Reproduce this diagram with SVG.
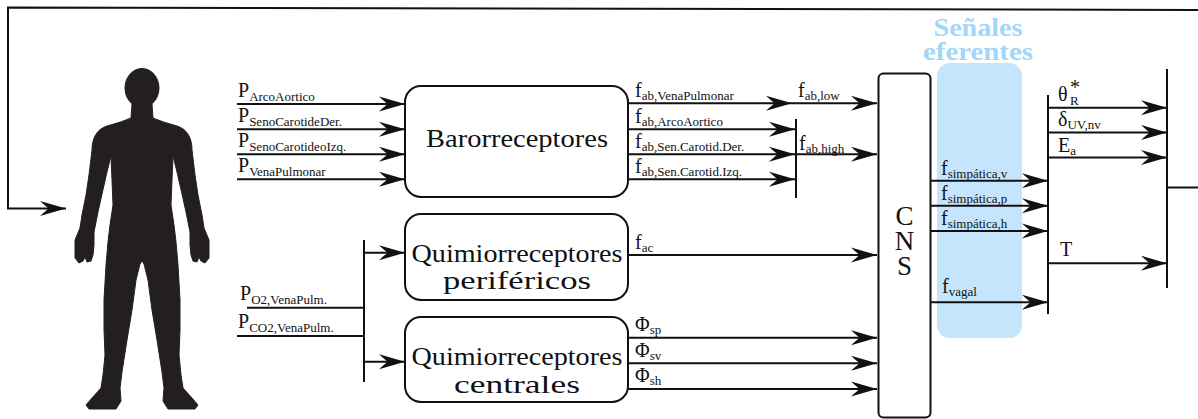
<svg xmlns="http://www.w3.org/2000/svg" width="1198" height="419" viewBox="0 0 1198 419">
  <style>
    text { font-family: "Liberation Serif", "Times New Roman", serif; fill: #111; }
    .m { font-size: 20px; }
    .s { font-size: 13px; }
    .box-label { font-size: 25px; text-anchor: middle; }
    .cns-label { font-size: 27px; text-anchor: middle; }
    .title { font-weight: bold; font-size: 26px; fill: #a3d6f8; text-anchor: middle; }
    .box { fill: #fff; stroke: #111; stroke-width: 2; }
    .wire { fill: none; stroke: #111; stroke-width: 2; }
    .arrow { fill: none; stroke: #111; stroke-width: 2; marker-end: url(#ah); }
  </style>
  <defs>
    <marker id="ah" markerUnits="userSpaceOnUse" markerWidth="26" markerHeight="16" viewBox="0 0 26 16" refX="26" refY="8" orient="auto">
      <path d="M26,8 L0,0.5 Q7,7 9,8 Q7,9 0,15.5 Z" fill="#111"/>
    </marker>
  </defs>

  <rect width="1198" height="419" fill="#fff"/>

  <!-- efferent signal band -->
  <g id="efferent-band">
    <rect x="937" y="63" width="85" height="275" rx="13" fill="#c4e5fb"/>
    <text class="title" x="978" y="36" textLength="89" lengthAdjust="spacingAndGlyphs">Señales</text>
    <text class="title" x="978" y="60" textLength="110" lengthAdjust="spacingAndGlyphs">eferentes</text>
  </g>

  <!-- body silhouette -->
  <g id="body" fill="#231f20" stroke="#231f20" stroke-width="1" stroke-linejoin="round">
    <ellipse cx="142" cy="88" rx="17" ry="19.5"/>
    <path d="M152,104 L153,118 Q162,122 177,126 C187,129 192,138 192,150 L195,175 L198,195 L202,215 L204,228 L209,240 L209,258 L205,263 L201,261 L199,257 L197,262 L193,261 L191,255 L190,245 L190,232 L186,212 L182,194 L177,172 L173,156 L172,180 L171,205 L174,225 L176,242 L178,265 L180,300 L180,330 L179,355 L181,375 L183,388 L192,398 L198,405 L195,409 L168,409 L163,401 L164,388 L162,372 L157,340 L152,310 L148,280 L144,264 L142,261 L140,264 L136,280 L132,310 L127,340 L122,372 L120,388 L121,401 L116,409 L89,409 L86,405 L92,398 L101,388 L103,375 L105,355 L104,330 L104,300 L106,265 L108,242 L110,225 L113,205 L112,180 L111,156 L107,172 L102,194 L98,212 L94,232 L94,245 L93,255 L91,261 L87,262 L85,257 L83,261 L79,263 L75,258 L75,240 L80,228 L82,215 L86,195 L89,175 L92,150 C92,138 97,129 107,126 Q122,122 131,118 L132,104 Z"/>
  </g>

  <!-- receptor and control blocks -->
  <g id="barorreceptores">
    <rect class="box" x="405" y="86" width="223" height="111" rx="16"/>
    <text class="box-label" x="517" y="147" textLength="182" lengthAdjust="spacingAndGlyphs">Barorreceptores</text>
  </g>
  <g id="quimio-perifericos">
    <rect class="box" x="405" y="214" width="223" height="86" rx="16"/>
    <text class="box-label" x="517" y="262" textLength="211" lengthAdjust="spacingAndGlyphs">Quimiorreceptores</text>
    <text class="box-label" x="517" y="289" textLength="148" lengthAdjust="spacingAndGlyphs">periféricos</text>
  </g>
  <g id="quimio-centrales">
    <rect class="box" x="405" y="317" width="223" height="85" rx="16"/>
    <text class="box-label" x="517" y="365" textLength="211" lengthAdjust="spacingAndGlyphs">Quimiorreceptores</text>
    <text class="box-label" x="517" y="393" textLength="126" lengthAdjust="spacingAndGlyphs">centrales</text>
  </g>
  <g id="cns">
    <rect class="box" x="878.5" y="73.5" width="52" height="344" rx="5"/>
    <text class="cns-label" x="904.5" y="225">C</text>
    <text class="cns-label" x="904.5" y="250">N</text>
    <text class="cns-label" x="904.5" y="275">S</text>
  </g>

  <!-- connectors -->
  <g id="connectors">
    <!-- feedback loop to the body -->
    <path class="arrow" d="M1198,10 L8,7.5 L8,208.5 L66,208.5"/>
    <path class="wire" d="M1167,187.5 L1198,187.5"/>

    <!-- pressures into baroreceptors -->
    <path class="arrow" d="M237,104 L405,104"/>
    <path class="arrow" d="M237,129.3 L405,129.3"/>
    <path class="arrow" d="M237,154.3 L405,154.3"/>
    <path class="arrow" d="M237,179.3 L405,179.3"/>

    <!-- baroreceptor afferents -->
    <path class="arrow" d="M628,103.3 L792,103.3"/>
    <path class="arrow" d="M792,103.3 L877,103.3"/>
    <path class="arrow" d="M628,129.3 L795,129.3"/>
    <path class="arrow" d="M628,154.3 L795,154.3"/>
    <path class="arrow" d="M628,179.3 L795,179.3"/>
    <path class="wire" d="M796,119 L796,198"/>
    <path class="arrow" d="M796,154.3 L877,154.3"/>

    <!-- blood gases into chemoreceptors -->
    <path class="wire" d="M247,307.7 L364,307.7"/>
    <path class="wire" d="M237,336 L364,336"/>
    <path class="wire" d="M364,240 L364,382"/>
    <path class="arrow" d="M364,252.7 L405,252.7"/>
    <path class="arrow" d="M364,361.7 L405,361.7"/>

    <!-- chemoreceptor afferents -->
    <path class="arrow" d="M628,255 L877,255"/>
    <path class="arrow" d="M628,337.7 L877,337.7"/>
    <path class="arrow" d="M628,363.3 L877,363.3"/>
    <path class="arrow" d="M628,389 L877,389"/>

    <!-- efferent outputs -->
    <path class="arrow" d="M931,180.7 L1048,180.7"/>
    <path class="arrow" d="M931,205.7 L1048,205.7"/>
    <path class="arrow" d="M931,231 L1048,231"/>
    <path class="arrow" d="M931,302.3 L1048,302.3"/>
    <path class="wire" d="M1048,95 L1048,314"/>

    <!-- effector parameters -->
    <path class="arrow" d="M1048,107.7 L1167,107.7"/>
    <path class="arrow" d="M1048,132.5 L1167,132.5"/>
    <path class="arrow" d="M1048,157.5 L1167,157.5"/>
    <path class="arrow" d="M1048,263.3 L1167,263.3"/>
    <path class="wire" d="M1167,69 L1167,288"/>
  </g>

  <!-- signal labels -->
  <g id="labels">
    <text class="m" x="238" y="97">P<tspan class="s" dy="3.5">ArcoAortico</tspan></text>
    <text class="m" x="238" y="122">P<tspan class="s" dy="3.5">SenoCarotideDer.</tspan></text>
    <text class="m" x="238" y="147">P<tspan class="s" dy="3.5">SenoCarotideoIzq.</tspan></text>
    <text class="m" x="238" y="172">P<tspan class="s" dy="3.5">VenaPulmonar</tspan></text>

    <text class="m" x="240" y="300">P<tspan class="s" dy="3.5">O2,VenaPulm.</tspan></text>
    <text class="m" x="238" y="328">P<tspan class="s" dy="3.5">CO2,VenaPulm.</tspan></text>

    <text class="m" x="635" y="97">f<tspan class="s" dy="3">ab,VenaPulmonar</tspan></text>
    <text class="m" x="635" y="123">f<tspan class="s" dy="3">ab,ArcoAortico</tspan></text>
    <text class="m" x="635" y="148">f<tspan class="s" dy="3">ab,Sen.Carotid.Der.</tspan></text>
    <text class="m" x="635" y="173">f<tspan class="s" dy="3">ab,Sen.Carotid.Izq.</tspan></text>
    <text class="m" x="798" y="97">f<tspan class="s" dy="3">ab,low</tspan></text>
    <text class="m" x="799" y="149.5">f<tspan class="s" dy="3">ab,high</tspan></text>

    <text class="m" x="635" y="248.5">f<tspan class="s" dy="3">ac</tspan></text>
    <text class="m" x="635" y="331">Φ<tspan class="s" dy="3">sp</tspan></text>
    <text class="m" x="635" y="356.5">Φ<tspan class="s" dy="3">sv</tspan></text>
    <text class="m" x="635" y="382">Φ<tspan class="s" dy="3">sh</tspan></text>

    <text class="m" x="941" y="174.5">f<tspan class="s" dy="3">simpática,v</tspan></text>
    <text class="m" x="941" y="199.5">f<tspan class="s" dy="3">simpática,p</tspan></text>
    <text class="m" x="941" y="224.5">f<tspan class="s" dy="3">simpática,h</tspan></text>
    <text class="m" x="942" y="293">f<tspan class="s" dy="3">vagal</tspan></text>

    <text class="m" x="1058" y="101">θ</text>
    <text class="s" x="1070" y="105">R</text>
    <text x="1070" y="94" style="font-size:20px">*</text>
    <text class="m" x="1058" y="126">δ<tspan class="s" dy="3">UV,nv</tspan></text>
    <text class="m" x="1058" y="151.5">E<tspan class="s" dy="3">a</tspan></text>
    <text class="m" x="1060" y="256">T</text>
  </g>
</svg>
